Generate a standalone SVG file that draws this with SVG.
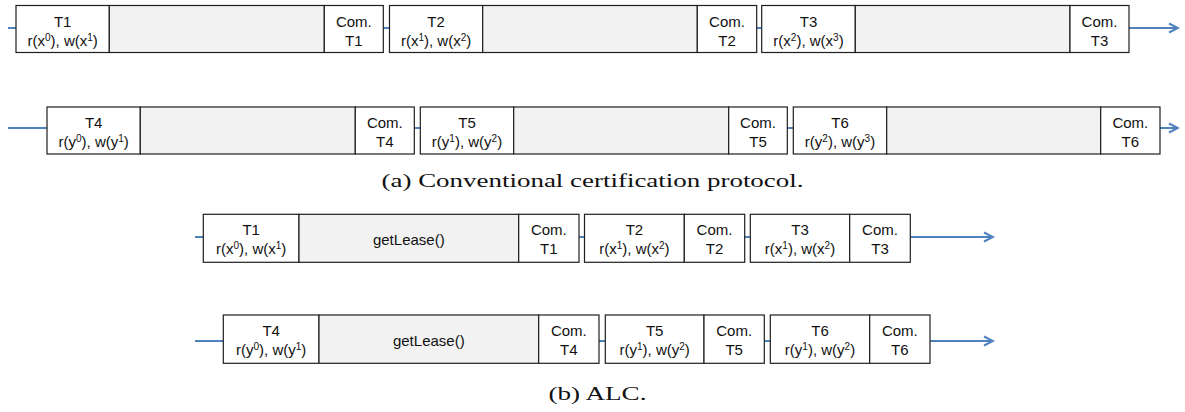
<svg xmlns="http://www.w3.org/2000/svg" width="1185" height="412" viewBox="0 0 1185 412">
  <style>
    .box { fill: #ffffff; stroke: #1e1e1e; stroke-width: 1.2; }
    .wait { fill: #f2f2f2; stroke: #1e1e1e; stroke-width: 1.2; }
    .lbl { font-family: "Liberation Sans", Arial, sans-serif; font-size: 15px; fill: #111; text-anchor: middle; }
    .sup { font-size: 10px; }
    .cap { font-family: "Liberation Serif", "Times New Roman", serif; font-size: 18.5px; fill: #111; text-anchor: middle; }
    .link { stroke: #4f81bd; stroke-width: 2; fill: none; }
    .flow { stroke: #4f81bd; stroke-width: 2; fill: none; marker-end: url(#arrow); }
  </style>
  <defs>
    <marker id="arrow" viewBox="0 0 12 12" refX="10.5" refY="6" markerWidth="12" markerHeight="12" markerUnits="userSpaceOnUse" orient="auto">
      <path d="M1.5,1.5 L10.5,6 L1.5,10.5" fill="none" stroke="#4f81bd" stroke-width="2" stroke-linejoin="miter"/>
    </marker>
  </defs>

  <rect width="1185" height="412" fill="#ffffff"/>

  <!-- connectors -->
  <g id="connectors">
    <!-- (a) row 1 -->
    <line class="link" x1="8" y1="28" x2="16" y2="28"/>
    <line class="link" x1="383.3" y1="28" x2="389.5" y2="28"/>
    <line class="link" x1="756.7" y1="28" x2="761.7" y2="28"/>
    <line class="flow" x1="1129" y1="28" x2="1178" y2="28"/>
    <!-- (a) row 2 -->
    <line class="link" x1="8" y1="128" x2="47" y2="128"/>
    <line class="link" x1="414.3" y1="128" x2="420.3" y2="128"/>
    <line class="link" x1="787.3" y1="128" x2="793.3" y2="128"/>
    <line class="flow" x1="1160" y1="128" x2="1178" y2="128"/>
    <!-- (b) row 1 -->
    <line class="link" x1="195" y1="237" x2="203.3" y2="237"/>
    <line class="link" x1="579" y1="237" x2="584.5" y2="237"/>
    <line class="link" x1="744.7" y1="237" x2="750.3" y2="237"/>
    <line class="flow" x1="910.3" y1="237" x2="993" y2="237"/>
    <!-- (b) row 2 -->
    <line class="link" x1="195" y1="341" x2="223.3" y2="341"/>
    <line class="link" x1="599" y1="341" x2="605.3" y2="341"/>
    <line class="link" x1="764.3" y1="341" x2="770.3" y2="341"/>
    <line class="flow" x1="930" y1="341" x2="993" y2="341"/>
  </g>

  <!-- (a) conventional certification, row 1 -->
  <g id="a-T1">
    <rect class="box" x="16" y="5.5" width="93.3" height="47"/>
    <rect class="wait" x="109.3" y="5.5" width="215" height="47"/>
    <rect class="box" x="324.3" y="5.5" width="59" height="47"/>
    <text class="lbl" x="62.7" y="26.5">T1</text>
    <text class="lbl" x="62.7" y="45.5">r(x<tspan class="sup" dy="-5">0</tspan><tspan dy="5">), w(x</tspan><tspan class="sup" dy="-5">1</tspan><tspan dy="5">)</tspan></text>
    <text class="lbl" x="353.8" y="26.5">Com.</text>
    <text class="lbl" x="353.8" y="45.5">T1</text>
  </g>
  <g id="a-T2">
    <rect class="box" x="389.5" y="5.5" width="93.2" height="47"/>
    <rect class="wait" x="482.7" y="5.5" width="214.6" height="47"/>
    <rect class="box" x="697.3" y="5.5" width="59.4" height="47"/>
    <text class="lbl" x="436.1" y="26.5">T2</text>
    <text class="lbl" x="436.1" y="45.5">r(x<tspan class="sup" dy="-5">1</tspan><tspan dy="5">), w(x</tspan><tspan class="sup" dy="-5">2</tspan><tspan dy="5">)</tspan></text>
    <text class="lbl" x="727" y="26.5">Com.</text>
    <text class="lbl" x="727" y="45.5">T2</text>
  </g>
  <g id="a-T3">
    <rect class="box" x="761.7" y="5.5" width="93.6" height="47"/>
    <rect class="wait" x="855.3" y="5.5" width="214.7" height="47"/>
    <rect class="box" x="1070" y="5.5" width="59" height="47"/>
    <text class="lbl" x="808.5" y="26.5">T3</text>
    <text class="lbl" x="808.5" y="45.5">r(x<tspan class="sup" dy="-5">2</tspan><tspan dy="5">), w(x</tspan><tspan class="sup" dy="-5">3</tspan><tspan dy="5">)</tspan></text>
    <text class="lbl" x="1099.5" y="26.5">Com.</text>
    <text class="lbl" x="1099.5" y="45.5">T3</text>
  </g>

  <!-- (a) conventional certification, row 2 -->
  <g id="a-T4">
    <rect class="box" x="47" y="107" width="93.3" height="47"/>
    <rect class="wait" x="140.3" y="107" width="215" height="47"/>
    <rect class="box" x="355.3" y="107" width="59" height="47"/>
    <text class="lbl" x="93.7" y="128">T4</text>
    <text class="lbl" x="93.7" y="147">r(y<tspan class="sup" dy="-5">0</tspan><tspan dy="5">), w(y</tspan><tspan class="sup" dy="-5">1</tspan><tspan dy="5">)</tspan></text>
    <text class="lbl" x="384.8" y="128">Com.</text>
    <text class="lbl" x="384.8" y="147">T4</text>
  </g>
  <g id="a-T5">
    <rect class="box" x="420.3" y="107" width="93.4" height="47"/>
    <rect class="wait" x="513.7" y="107" width="215" height="47"/>
    <rect class="box" x="728.7" y="107" width="58.6" height="47"/>
    <text class="lbl" x="467" y="128">T5</text>
    <text class="lbl" x="467" y="147">r(y<tspan class="sup" dy="-5">1</tspan><tspan dy="5">), w(y</tspan><tspan class="sup" dy="-5">2</tspan><tspan dy="5">)</tspan></text>
    <text class="lbl" x="758" y="128">Com.</text>
    <text class="lbl" x="758" y="147">T5</text>
  </g>
  <g id="a-T6">
    <rect class="box" x="793.3" y="107" width="93.4" height="47"/>
    <rect class="wait" x="886.7" y="107" width="214" height="47"/>
    <rect class="box" x="1100.7" y="107" width="59.3" height="47"/>
    <text class="lbl" x="840" y="128">T6</text>
    <text class="lbl" x="840" y="147">r(y<tspan class="sup" dy="-5">2</tspan><tspan dy="5">), w(y</tspan><tspan class="sup" dy="-5">3</tspan><tspan dy="5">)</tspan></text>
    <text class="lbl" x="1130.3" y="128">Com.</text>
    <text class="lbl" x="1130.3" y="147">T6</text>
  </g>

  <text id="caption-a" class="cap" x="592.5" y="186.5" textLength="422" lengthAdjust="spacingAndGlyphs">(a) Conventional certification protocol.</text>

  <!-- (b) ALC, row 1 -->
  <g id="b-T1">
    <rect class="box" x="203.3" y="214.3" width="95.7" height="48"/>
    <rect class="wait" x="299" y="214.3" width="219.7" height="48"/>
    <rect class="box" x="518.7" y="214.3" width="60.3" height="48"/>
    <text class="lbl" x="251.2" y="234.5">T1</text>
    <text class="lbl" x="251.2" y="253.5">r(x<tspan class="sup" dy="-5">0</tspan><tspan dy="5">), w(x</tspan><tspan class="sup" dy="-5">1</tspan><tspan dy="5">)</tspan></text>
    <text class="lbl" x="408.8" y="245">getLease()</text>
    <text class="lbl" x="548.8" y="234.5">Com.</text>
    <text class="lbl" x="548.8" y="253.5">T1</text>
  </g>
  <g id="b-T2">
    <rect class="box" x="584.5" y="214.3" width="99.8" height="48"/>
    <rect class="box" x="684.3" y="214.3" width="60.4" height="48"/>
    <text class="lbl" x="634.4" y="234.5">T2</text>
    <text class="lbl" x="634.4" y="253.5">r(x<tspan class="sup" dy="-5">1</tspan><tspan dy="5">), w(x</tspan><tspan class="sup" dy="-5">2</tspan><tspan dy="5">)</tspan></text>
    <text class="lbl" x="714.5" y="234.5">Com.</text>
    <text class="lbl" x="714.5" y="253.5">T2</text>
  </g>
  <g id="b-T3">
    <rect class="box" x="750.3" y="214.3" width="99.4" height="48"/>
    <rect class="box" x="849.7" y="214.3" width="60.6" height="48"/>
    <text class="lbl" x="800" y="234.5">T3</text>
    <text class="lbl" x="800" y="253.5">r(x<tspan class="sup" dy="-5">1</tspan><tspan dy="5">), w(x</tspan><tspan class="sup" dy="-5">2</tspan><tspan dy="5">)</tspan></text>
    <text class="lbl" x="880" y="234.5">Com.</text>
    <text class="lbl" x="880" y="253.5">T3</text>
  </g>

  <!-- (b) ALC, row 2 -->
  <g id="b-T4">
    <rect class="box" x="223.3" y="315" width="95.7" height="48.3"/>
    <rect class="wait" x="319" y="315" width="219.7" height="48.3"/>
    <rect class="box" x="538.7" y="315" width="60.3" height="48.3"/>
    <text class="lbl" x="271.2" y="335.5">T4</text>
    <text class="lbl" x="271.2" y="354.5">r(y<tspan class="sup" dy="-5">0</tspan><tspan dy="5">), w(y</tspan><tspan class="sup" dy="-5">1</tspan><tspan dy="5">)</tspan></text>
    <text class="lbl" x="428.8" y="346">getLease()</text>
    <text class="lbl" x="568.8" y="335.5">Com.</text>
    <text class="lbl" x="568.8" y="354.5">T4</text>
  </g>
  <g id="b-T5">
    <rect class="box" x="605.3" y="315" width="98.7" height="48.3"/>
    <rect class="box" x="704" y="315" width="60.3" height="48.3"/>
    <text class="lbl" x="654.7" y="335.5">T5</text>
    <text class="lbl" x="654.7" y="354.5">r(y<tspan class="sup" dy="-5">1</tspan><tspan dy="5">), w(y</tspan><tspan class="sup" dy="-5">2</tspan><tspan dy="5">)</tspan></text>
    <text class="lbl" x="734.2" y="335.5">Com.</text>
    <text class="lbl" x="734.2" y="354.5">T5</text>
  </g>
  <g id="b-T6">
    <rect class="box" x="770.3" y="315" width="99.4" height="48.3"/>
    <rect class="box" x="869.7" y="315" width="60.3" height="48.3"/>
    <text class="lbl" x="820" y="335.5">T6</text>
    <text class="lbl" x="820" y="354.5">r(y<tspan class="sup" dy="-5">1</tspan><tspan dy="5">), w(y</tspan><tspan class="sup" dy="-5">2</tspan><tspan dy="5">)</tspan></text>
    <text class="lbl" x="899.8" y="335.5">Com.</text>
    <text class="lbl" x="899.8" y="354.5">T6</text>
  </g>

  <text id="caption-b" class="cap" x="597.5" y="400" textLength="98" lengthAdjust="spacingAndGlyphs">(b) ALC.</text>
</svg>
